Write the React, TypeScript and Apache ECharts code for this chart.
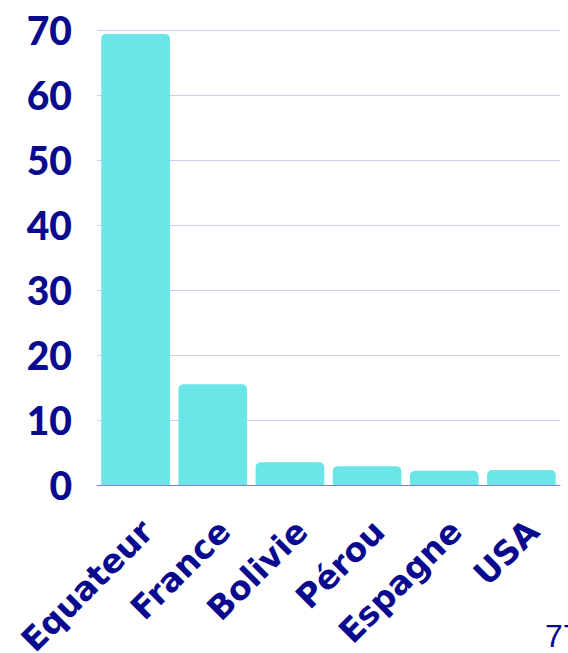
import React, { useEffect, useRef } from "react";
import * as echarts from "echarts";

const categories = ["Equateur", "France", "Bolivie", "Pérou", "Espagne", "USA"];
const values = [69.4, 15.5, 3.5, 2.9, 2.2, 2.3];
const yTicks = { min: 0, max: 70, interval: 10 };

const NAVY = "#0a0a8e";

export default function App() {
  const ref = useRef<HTMLDivElement>(null);
  useEffect(() => {
    document.body.style.margin = "0";
    document.body.style.overflow = "hidden";
    const chart = echarts.init(ref.current!, null, { renderer: "svg" });
    chart.setOption({
      animation: false,
      grid: {
        left: 97,
        right: 8,
        top: 30,
        bottom: 168,
        containLabel: false,
        outerBoundsMode: "none",
      },
      xAxis: {
        type: "category",
        data: categories,
        axisTick: { show: false },
        axisLine: { show: true, lineStyle: { color: "#8080c8", width: 1 } },
        axisLabel: {
          rotate: 45,
          interval: 0,
          margin: 29,
          align: "right",
          verticalAlign: "top",
          color: NAVY,
          fontFamily: "DejaVu Sans",
          fontWeight: "bold",
          fontSize: 33,
        },
      },
      yAxis: {
        type: "value",
        min: yTicks.min,
        max: yTicks.max,
        interval: yTicks.interval,
        axisLine: { show: false },
        axisTick: { show: false },
        splitLine: { lineStyle: { color: "#cfcdf2", width: 1 } },
        axisLabel: {
          margin: 25,
          color: NAVY,
          fontFamily: "Lato",
          fontWeight: 900,
          fontSize: 39,
        },
      },
      series: [
        {
          type: "bar",
          data: values,
          barCategoryGap: "11%",
          itemStyle: { color: "#6ce5e8", borderRadius: [5, 5, 0, 0] },
        },
      ],
      graphic: [
        {
          type: "text",
          left: 545,
          top: 620,
          style: {
            text: "77",
            fill: NAVY,
            font: "300 32px 'Liberation Sans'",
          },
        },
      ],
    });
    return () => chart.dispose();
  }, []);
  return <div ref={ref} style={{ width: 568, height: 653 }} />;
}
